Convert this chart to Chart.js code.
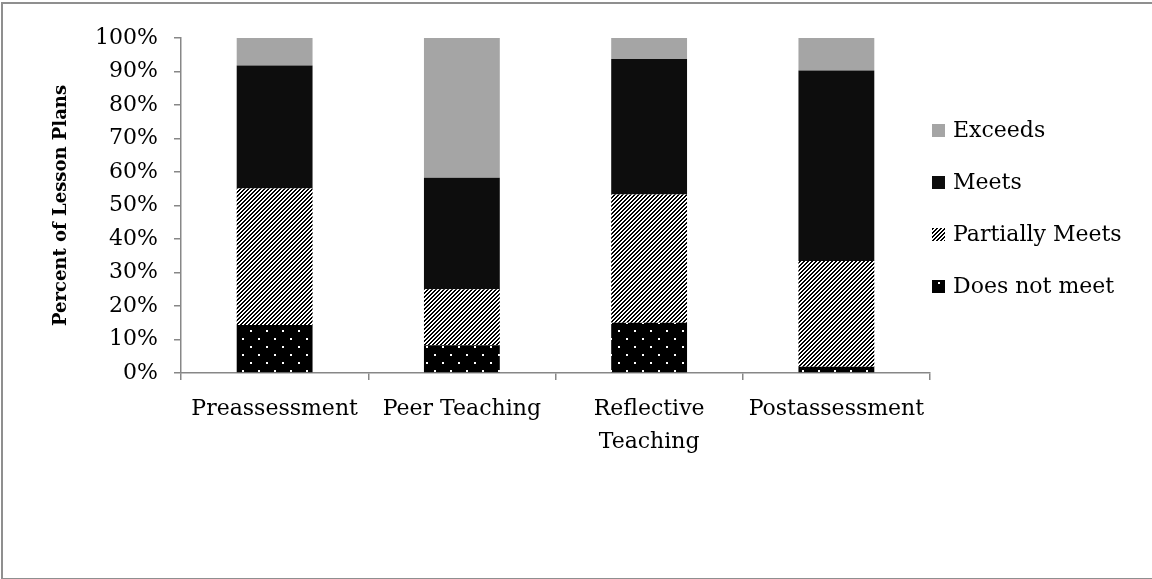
<!DOCTYPE html>
<html lang="en">
<head>
  <meta charset="UTF-8">
  <title>Percent of Lesson Plans</title>
  <script src="https://cdn.jsdelivr.net/npm/chart.js"></script>
  <style>
    body {
      margin: 0;
      background: #ffffff;
    }
    #wrap {
      position: relative;
      width: 1152px;
      height: 579px;
      overflow: hidden;
    }
    #chart {
      position: absolute;
      left: 0;
      top: 0;
    }
    #frame {
      position: absolute;
      left: 1px;
      top: 2px;
      width: 1160px;
      height: 574px;
      border: 2px solid #8f8f8f;
      pointer-events: none;
    }
  </style>
</head>
<body>
  <div id="wrap">
    <canvas id="chart" width="1152" height="579"></canvas>
    <div id="frame"></div>
  </div>

  <script>
    // data (percent of lesson plans)
    const categories = ['Preassessment', 'Peer Teaching', ['Reflective', 'Teaching'], 'Postassessment'];
    const doesNotMeet = [14.3, 8.3, 15.0, 1.9];
    const partiallyMeets = [40.8, 16.7, 38.3, 31.5];
    const meets = [36.7, 33.3, 40.4, 56.9];
    const exceeds = [8.2, 41.7, 6.3, 9.7];
    const seriesNames = ['Does not meet', 'Partially Meets', 'Meets', 'Exceeds'];

    const fontFamily = "'DejaVu Serif', serif";

    // fill patterns like the office ones
    function hatchPattern() {
      const c = document.createElement('canvas');
      c.width = 4;
      c.height = 4;
      const g = c.getContext('2d');
      g.fillStyle = '#ffffff';
      g.fillRect(0, 0, 4, 4);
      g.fillStyle = '#000000';
      for (let y = 0; y < 4; y++) {
        for (let x = 0; x < 4; x++) {
          if ((x + y) % 4 < 2) g.fillRect(x, y, 1, 1);
        }
      }
      return g.createPattern(c, 'repeat');
    }

    function dotPattern() {
      const c = document.createElement('canvas');
      c.width = 16;
      c.height = 16;
      const g = c.getContext('2d');
      g.fillStyle = '#000000';
      g.fillRect(0, 0, 16, 16);
      g.fillStyle = '#ffffff';
      g.fillRect(2, 2, 2, 2);
      g.fillRect(10, 10, 2, 2);
      return g.createPattern(c, 'repeat');
    }

    const fills = [dotPattern(), hatchPattern(), '#0d0d0d', '#a5a5a5'];

    // legend drawn to the right of the plot, top item = last series
    const sideLegend = {
      id: 'sideLegend',
      afterDraw(chart) {
        const ctx = chart.ctx;
        const area = chart.chartArea;
        const mid = (area.top + area.bottom) / 2 + 3;
        const step = 52;
        const sets = chart.data.datasets.slice().reverse();
        ctx.save();
        ctx.font = '22px ' + fontFamily;
        ctx.textBaseline = 'middle';
        sets.forEach((ds, i) => {
          const cy = mid + (i - (sets.length - 1) / 2) * step;
          ctx.fillStyle = ds.backgroundColor;
          ctx.fillRect(area.right + 2, cy - 6.5, 13, 13);
          ctx.fillStyle = '#000000';
          ctx.fillText(ds.label, area.right + 23, cy + 1);
        });
        ctx.restore();
      }
    };

    const ctx = document.getElementById('chart').getContext('2d');
    const values = [doesNotMeet, partiallyMeets, meets, exceeds];

    new Chart(ctx, {
      type: 'bar',
      data: {
        labels: categories,
        datasets: values.map((v, i) => ({
          label: seriesNames[i],
          data: v,
          backgroundColor: fills[i],
          borderWidth: 0,
          categoryPercentage: 1,
          barPercentage: 0.405
        }))
      },
      options: {
        responsive: false,
        animation: false,
        devicePixelRatio: 1,
        layout: {
          padding: { top: 38, right: 222, bottom: 0, left: 30 }
        },
        plugins: {
          legend: { display: false },
          tooltip: { enabled: false }
        },
        scales: {
          x: {
            stacked: true,
            grid: {
              drawOnChartArea: false,
              drawTicks: true,
              tickLength: 7,
              color: '#878787',
              lineWidth: 1.5
            },
            border: { color: '#878787', width: 1.5 },
            ticks: {
              color: '#000000',
              font: { family: fontFamily, size: 22, lineHeight: 1.5 },
              padding: 13,
              maxRotation: 0,
              autoSkip: false
            },
            afterFit(scale) {
              scale.height = 206;
            }
          },
          y: {
            stacked: true,
            min: 0,
            max: 100,
            grid: {
              drawOnChartArea: false,
              drawTicks: true,
              tickLength: 7,
              color: '#878787',
              lineWidth: 1.5
            },
            border: { color: '#878787', width: 1.5 },
            ticks: {
              stepSize: 10,
              color: '#000000',
              font: { family: fontFamily, size: 22 },
              padding: 16,
              callback: v => v + '%'
            },
            title: {
              display: true,
              text: 'Percent of Lesson Plans',
              color: '#000000',
              font: { family: fontFamily, size: 18, weight: 'bold' },
              padding: { top: 21, bottom: 0 }
            },
            afterFit(scale) {
              scale.width = 151;
            }
          }
        }
      },
      plugins: [sideLegend]
    });
  </script>
</body>
</html>
